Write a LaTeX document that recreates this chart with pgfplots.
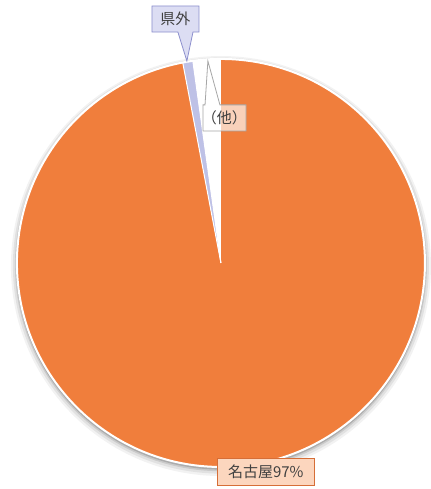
\documentclass[border=0pt]{standalone}
\usepackage{fontspec}
\setmainfont{Noto Sans CJK JP}
\usepackage{pgfplots}
\pgfplotsset{compat=1.18}
\definecolor{pieorange}{RGB}{240,126,60}
\definecolor{pielav}{RGB}{190,193,230}
\definecolor{lavbox}{RGB}{220,221,243}
\definecolor{lavline}{RGB}{140,143,205}
\definecolor{peach}{RGB}{252,214,190}
\definecolor{peachline}{RGB}{214,110,55}
\definecolor{txt}{RGB}{64,64,64}

% shares in percent, clockwise from 12 o'clock
\def\vNagoya{97}
\def\vKengai{0.8}
\def\vSonota{2.2}

\begin{document}
\begin{tikzpicture}[font=\fontsize{15}{17}\selectfont]
\begin{axis}[
    x=204pt, y=204pt,
    xmin=-1.083, xmax=1.029,
    ymin=-1.108, ymax=1.289,
    scale only axis, hide axis, clip=false,
]
\path (axis cs:-1.083,-1.108) rectangle (axis cs:1.029,1.289);

% soft shadow
\fill[black,opacity=0.05] (axis cs:0,-0.015) circle[radius=210pt];
\fill[black,opacity=0.07] (axis cs:0,-0.013) circle[radius=208pt];
\fill[black,opacity=0.10] (axis cs:0,-0.011) circle[radius=206pt];
\fill[black,opacity=0.15] (axis cs:0,-0.008) circle[radius=205pt];

\pgfmathsetmacro{\aA}{90}
\pgfmathsetmacro{\aB}{\aA-3.6*\vNagoya}
\pgfmathsetmacro{\aC}{\aB-3.6*\vKengai}
\pgfmathsetmacro{\aD}{\aC-3.6*\vSonota}

\fill[pieorange] (axis cs:0,0) -- ++(\aA:204pt) arc[start angle=\aA, end angle=\aB, radius=204pt] -- cycle;
\fill[pielav] (axis cs:0,0) -- ++(\aB:204pt) arc[start angle=\aB, end angle=\aC, radius=204pt] -- cycle;
\fill[white] (axis cs:0,0) -- ++(\aC:204pt) arc[start angle=\aC, end angle=\aD, radius=204pt] -- cycle;
\draw[white,line width=1pt] (axis cs:0,0) -- ++(\aA:204pt);
\draw[white,line width=1pt] (axis cs:0,0) -- ++(\aB:204pt);
\draw[white,line width=1pt] (axis cs:0,0) -- ++(\aC:204pt);
\draw[white,line width=2pt] (axis cs:0,0) circle[radius=204pt];

% callout: 県外
\filldraw[fill=lavbox,draw=lavline,line width=0.8pt]
  (axis cs:-0.338,1.132) -- (axis cs:-0.211,1.132) -- (axis cs:-0.167,0.990)
  -- (axis cs:-0.137,1.132) -- (axis cs:-0.108,1.132) -- (axis cs:-0.108,1.260)
  -- (axis cs:-0.338,1.260) -- cycle;
\node[txt] at (axis cs:-0.223,1.196) {県外};

% callout: (他)
\filldraw[fill=white,fill opacity=0.65,draw=gray!70,line width=0.8pt]
  (axis cs:-0.088,0.775) -- (axis cs:-0.078,0.775) -- (axis cs:-0.064,0.990)
  -- (axis cs:-0.005,0.775) -- (axis cs:0.123,0.775) -- (axis cs:0.123,0.647)
  -- (axis cs:-0.088,0.647) -- cycle;
\node[txt] at (axis cs:0.017,0.711) {（他）};

% callout: 名古屋97%
\filldraw[fill=peach,draw=peachline,line width=0.8pt]
  (axis cs:-0.015,-0.956) rectangle (axis cs:0.456,-1.088);
\node[txt] at (axis cs:0.22,-1.022) {名古屋97\%};
\end{axis}
\end{tikzpicture}
\end{document}
